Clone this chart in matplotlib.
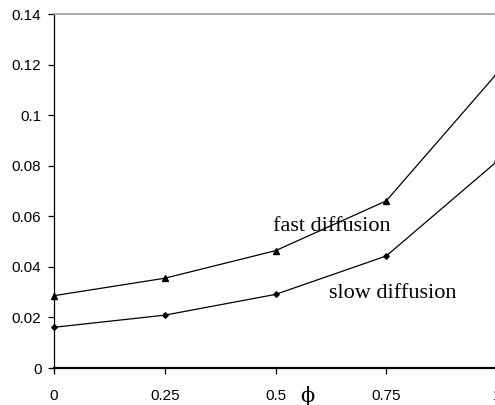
import matplotlib
matplotlib.use("Agg")
import matplotlib.pyplot as plt

phi = [0, 0.25, 0.5, 0.75, 1.0]
fast = [0.0286, 0.0355, 0.0464, 0.0661, 0.1165]
slow = [0.0161, 0.0209, 0.0291, 0.0443, 0.0817]
yticks = [0, 0.02, 0.04, 0.06, 0.08, 0.10, 0.12, 0.14]
ytick_labels = ["0", "0.02", "0.04", "0.06", "0.08", "0.1", "0.12", "0.14"]
xtick_labels = ["0", "0.25", "0.5", "0.75", "1"]

W, H = 495, 405
fig = plt.figure(figsize=(W / 100, H / 100), dpi=100)
left, right, bottom, top = 54, 497, 368, 14
ax = fig.add_axes([left / W, (H - bottom) / H, (right - left) / W, (bottom - top) / H])

ax.plot(phi, fast, color="black", lw=0.9, marker="^", ms=4, clip_on=False)
ax.plot(phi, slow, color="black", lw=0.9, marker="D", ms=2.8, clip_on=False)

ax.set_xlim(0, 1)
ax.set_ylim(0, 0.14)
ax.set_xticks(phi)
ax.set_xticklabels(xtick_labels, family="Liberation Sans", fontsize=11)
ax.set_yticks(yticks)
ax.set_yticklabels(ytick_labels, family="Liberation Sans", fontsize=11)
ax.tick_params(axis="y", direction="out", length=4, width=0.9, pad=5)
ax.tick_params(axis="x", direction="out", length=4, width=0.9, pad=11)

ax.spines["left"].set_color("black")
ax.spines["left"].set_linewidth(0.9)
ax.spines["bottom"].set_color("black")
ax.spines["bottom"].set_linewidth(1.6)
ax.spines["top"].set_color("#a0a0a0")
ax.spines["top"].set_linewidth(1.2)
ax.spines["right"].set_visible(False)

ax.text(0.494, 0.0543, "fast diffusion", family="Liberation Serif", fontsize=16,
        ha="left", va="baseline")
ax.text(0.621, 0.0275, "slow diffusion", family="Liberation Serif", fontsize=16,
        ha="left", va="baseline")

fig.text(307 / W, 1 - 396 / H, "ϕ", family="DejaVu Serif", fontsize=15,
         ha="center", va="center")

fig.savefig("out.png", dpi=100)
